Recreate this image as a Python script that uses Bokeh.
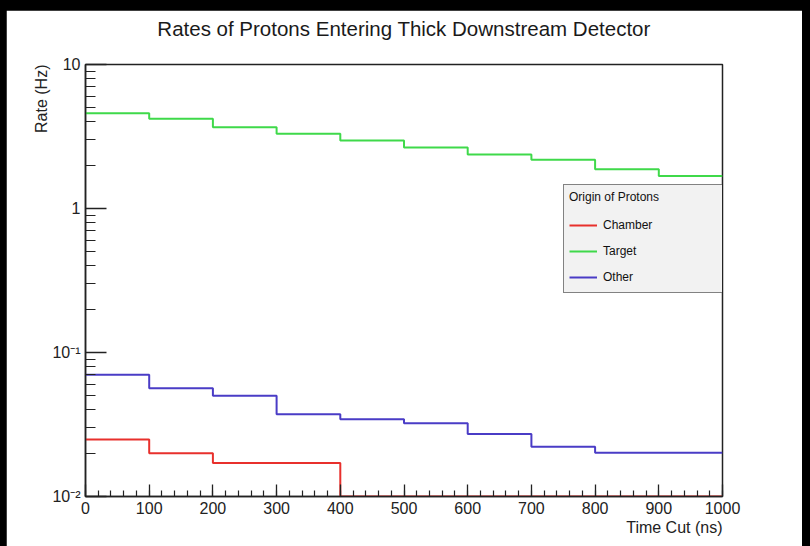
from bokeh.plotting import figure
from bokeh.models import (Range1d, FixedTicker, CustomJSTickFormatter, Legend,
                          LegendItem, Title)
from bokeh.layouts import column
from bokeh.embed import file_html
from bokeh.resources import INLINE

# ---- data ----
bin_edges = [0, 100, 200, 300, 400, 500, 600, 700, 800, 900, 1000]
chamber = [0.0249, 0.0200, 0.0171, 0.0171, 0.0, 0.0, 0.0, 0.0, 0.0, 0.0]
target = [4.59, 4.20, 3.67, 3.30, 2.97, 2.65, 2.37, 2.18, 1.87, 1.68]
other = [0.0700, 0.0565, 0.0500, 0.0373, 0.0344, 0.0323, 0.0272, 0.0222, 0.0201, 0.0201]
series_names = ["Chamber", "Target", "Other"]
y_ticks = [0.01, 0.1, 1, 10]
y_tick_labels = ["10\u207b\u00b2", "10\u207b\u00b9", "1", "10"]
y_minor = [m * d for d in [0.01, 0.1, 1] for m in range(2, 10)]
x_ticks = list(range(0, 1001, 100))
x_minor = list(range(0, 1001, 20))
title_text = "Rates of Protons Entering Thick Downstream Detector"

Y_MIN, Y_MAX = 0.01, 10
FONT = "Liberation Sans"

p = figure(width=796, height=536, x_range=Range1d(0, 1000),
           y_range=Range1d(Y_MIN, Y_MAX), y_axis_type="log",
           output_backend="svg", toolbar_location=None,
           min_border_left=79, min_border_right=80,
           min_border_top=54, min_border_bottom=50,
           border_fill_color="white", background_fill_color="white")
p.margin = (10, 8, 0, 6)
p.grid.visible = False
p.outline_line_color = "#222222"
p.outline_line_width = 1.5

# spacer panel between frame and title
p.add_layout(Title(text=" ", text_font=FONT, text_font_size="19.5px", standoff=0), "above")

p.title.text = title_text
p.title.align = "center"
p.title.text_font = FONT
p.title.text_font_size = "20.5px"
p.title.text_font_style = "normal"
p.title.text_color = "#1a1a1a"
p.title.standoff = 2


def step_vals(vals):
    v = [max(x, Y_MIN) for x in vals]
    return v + [v[-1]]


r_ch = p.step(bin_edges, step_vals(chamber), mode="after", line_color="#e8302c", line_width=2)
r_tg = p.step(bin_edges, step_vals(target), mode="after", line_color="#3fd94a", line_width=2)
r_ot = p.step(bin_edges, step_vals(other), mode="after", line_color="#4a3cc6", line_width=2)

# axes (ROOT style: ticks inside)
xa = p.xaxis[0]
xa.ticker = FixedTicker(ticks=x_ticks, minor_ticks=x_minor)
xa.major_tick_in = 12
xa.major_tick_out = 0
xa.minor_tick_in = 6
xa.minor_tick_out = 0
ya = p.yaxis[0]
ya.ticker = FixedTicker(ticks=y_ticks, minor_ticks=y_minor)
ya.major_tick_in = 21
ya.major_tick_out = 0
ya.minor_tick_in = 10
ya.minor_tick_out = 0
ya.formatter = CustomJSTickFormatter(args=dict(vals=y_ticks, labs=y_tick_labels), code="""
    for (let i = 0; i < vals.length; i++) {
        if (Math.abs(Math.log10(tick) - Math.log10(vals[i])) < 1e-6) return labs[i];
    }
    return "";
""")
for ax in (xa, ya):
    ax.axis_line_color = "#222222"
    ax.axis_line_width = 1.5
    ax.major_tick_line_color = "#222222"
    ax.minor_tick_line_color = "#222222"
    ax.major_tick_line_width = 1.3
    ax.minor_tick_line_width = 1.2
    ax.major_label_text_font = FONT
    ax.major_label_text_font_size = "16px"
    ax.major_label_text_color = "#222222"
    ax.major_label_standoff = 5

p.add_layout(Title(text="Time Cut (ns)", align="right", text_font=FONT,
                   text_font_size="16px", text_font_style="normal",
                   text_color="#222222", standoff=0), "below")
p.add_layout(Title(text="Rate (Hz)", align="right", text_font=FONT,
                   text_font_size="16px", text_font_style="normal",
                   text_color="#222222", standoff=0), "left")

legend = Legend(items=[LegendItem(label=series_names[0], renderers=[r_ch]),
                       LegendItem(label=series_names[1], renderers=[r_tg]),
                       LegendItem(label=series_names[2], renderers=[r_ot])],
                title="Origin of Protons", location=(478, 203),
                title_text_font=FONT, title_text_font_size="12px",
                title_text_font_style="normal", title_text_color="#111111",
                title_standoff=11,
                label_text_font=FONT, label_text_font_size="12px",
                label_text_color="#111111",
                glyph_width=28, glyph_height=20, label_height=20,
                label_width=115, label_standoff=6, spacing=6,
                padding=5, margin=0,
                border_line_color="#111111", border_line_width=1.5,
                background_fill_color="#f2f2f2", background_fill_alpha=1.0)
p.add_layout(legend, "center")

layout = column(p, styles={"background-color": "black"}, width=810, height=546)

open("out.html", "w").write(file_html(layout, INLINE))
